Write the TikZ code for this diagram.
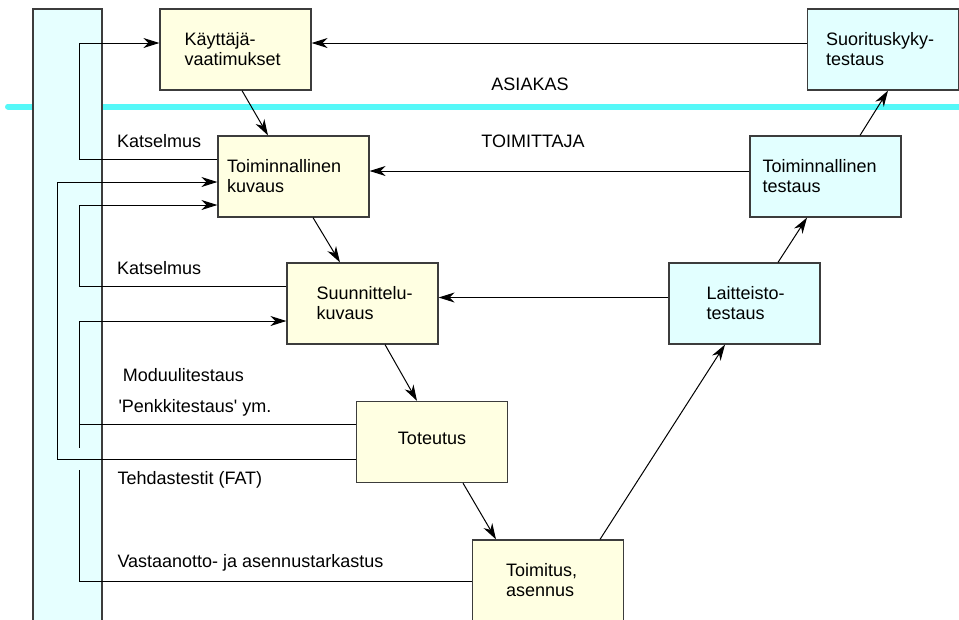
\documentclass[tikz,border=0pt]{standalone}
\usepackage{fontspec}
\setmainfont{Liberation Sans}
% same face without TeX ligature mapping, for straight quotes
\newfontfamily\rawfont{Liberation Sans}
\usetikzlibrary{arrows.meta}
\definecolor{reqfill}{RGB}{255,255,226}
\definecolor{testfill}{RGB}{226,255,255}
\definecolor{panelfill}{RGB}{230,255,255}
\definecolor{borderline}{RGB}{60,60,60}
\definecolor{divider}{RGB}{85,248,248}

\begin{document}
\begin{tikzpicture}[x=1pt,y=-1pt,
  phase/.style={draw=borderline, line width=1.2pt, minimum width=151pt,
                minimum height=81pt, inner sep=0pt},
  specbox/.style={phase, fill=reqfill},
  testbox/.style={phase, fill=testfill},
  boxtext/.style={anchor=west, align=left, inner sep=0pt,
                  font=\fontsize{18}{20}\selectfont},
  lbl/.style={anchor=base west, inner sep=0pt,
              font=\fontsize{18}{20}\selectfont},
  flow/.style={line width=1pt, -{Stealth[length=16pt,width=10pt,inset=5pt]}},
  plain/.style={line width=1pt}
]
\useasboundingbox (0,0) rectangle (959,619);

% customer / supplier divider
\draw[divider, line width=6pt, line cap=round] (8,106.5) -- (975,106.5);

% side panel
\draw[borderline, fill=panelfill, line width=1.2pt] (33,9) rectangle (102,640);

% specification side
\node[specbox] (req) at (235.5,49.5) {};
\node[boxtext] at ([xshift=25pt]req.west) {Käyttäjä-\\vaatimukset};
\node[specbox] (tk) at (293.5,176.5) {};
\node[boxtext] at ([xshift=9.5pt]tk.west) {Toiminnallinen\\kuvaus};
\node[specbox] (sn) at (362.5,303.5) {};
\node[boxtext] at ([xshift=30pt]sn.west) {Suunnittelu-\\kuvaus};
\node[specbox] (tt) at (432,442) {};
\node[boxtext, anchor=center] at ([yshift=4pt]tt.center) {Toteutus};
\node[specbox] (ta) at (548,580.5) {};
\node[boxtext] at ([xshift=34pt]ta.west) {Toimitus,\\asennus};

% testing side
\node[testbox] (lt) at (744.5,303.5) {};
\node[boxtext] at ([xshift=38pt]lt.west) {Laitteisto-\\testaus};
\node[testbox] (tt2) at (825.5,176.5) {};
\node[boxtext] at ([xshift=13pt]tt2.west) {Toiminnallinen\\testaus};
\node[testbox] (sk) at (883,49.5) {};
\node[boxtext] at ([xshift=19pt]sk.west) {Suorituskyky-\\testaus};

% party labels
\node[lbl, anchor=base] (asiakas) at (530,90) {ASIAKAS};
\node[lbl, anchor=base] (toimittaja) at (533,147.3) {TOIMITTAJA};

% V-model flow
\draw[flow] (req.south -| 242,0) -- (tk.north -| 268,0);
\draw[flow] (tk.south -| 313,0) -- (sn.north -| 340,0);
\draw[flow] (sn.south -| 385,0) -- (tt.north -| 417,0);
\draw[flow] (tt.south -| 463,0) -- (ta.north -| 496,0);
\draw[flow] (ta.north -| 600,0) -- (lt.south -| 725,0);
\draw[flow] (lt.north -| 778,0) -- (tt2.south -| 807,0);
\draw[flow] (tt2.north -| 860,0) -- (sk.south -| 888,0);

% test results back to specifications
\draw[flow] (sk.west |- 0,43) -- (req.east |- 0,43);
\draw[flow] (tt2.west |- 0,171) -- (tk.east |- 0,171);
\draw[flow] (lt.west |- 0,297.5) -- (sn.east |- 0,297.5);

% review and test loops on the left
\draw[flow] (tk.west |- 0,159) -| (79,43) -- (req.west |- 0,43);
\draw[flow] (tt.west |- 0,459) -| (57,182) -- (tk.west |- 0,182);
\draw[flow] (sn.west |- 0,286) -| (79,205) -- (tk.west |- 0,205);
\draw[flow] (tt.west |- 0,424) -| (79,321) -- (sn.west |- 0,321);
\coordinate (stubtop) at (79,424);
\coordinate (stubend) at (79,448);
\draw[plain] (stubtop) -- (stubend);
\coordinate (siteend) at (79,470);
\draw[plain] (ta.west |- 0,581) -| (siteend);

% loop labels
\node[lbl] (kat1) at (117,147.3) {Katselmus};
\node[lbl] (kat2) at (117,274.3) {Katselmus};
\node[lbl] (modt) at (122.7,381) {Moduulitestaus};
\node[lbl] (penk) at (118.3,412.7) {{\rawfont 'Penkkitestaus' ym.}};
\node[lbl] (fat) at (117.3,484.5) {Tehdastestit (FAT)};
\node[lbl] (vast) at (117.3,567.7) {Vastaanotto- ja asennustarkastus};
\end{tikzpicture}
\end{document}
